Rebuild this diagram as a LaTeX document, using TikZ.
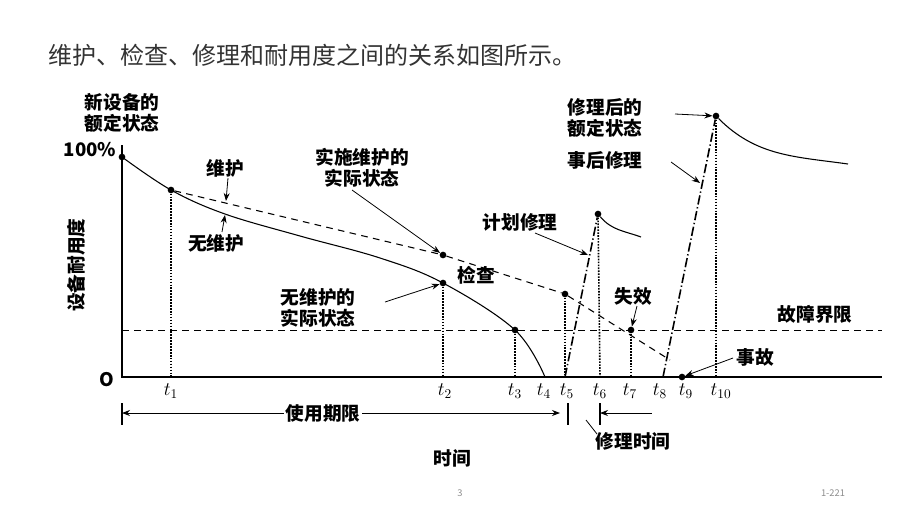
\documentclass[tikz,border=0pt]{standalone}
\usepackage{fontspec}
\setmainfont{Noto Sans CJK SC}
\usetikzlibrary{arrows.meta, positioning}

\begin{document}
\begin{tikzpicture}[
    x=0.75pt, y=-0.75pt,
    lbl/.style = {font=\fontsize{14}{16}\selectfont\bfseries, align=center, inner sep=1pt},
    tick/.style = {font=\fontsize{14}{15}\selectfont},
    dot/.style = {circle, fill=black, inner sep=0pt, minimum size=5pt},
    vline/.style = {densely dotted, very thick},
    pointer/.style = {-{Stealth[length=6pt]}, semithick},
    repair/.style = {very thick, dash pattern=on 7pt off 2pt on 1pt off 2pt},
    curve/.style = {thick}
]
\useasboundingbox (0,0) rectangle (920,518);

% Title
\node[anchor=west, font=\fontsize{18}{20}\selectfont, text=black!80] (title) at (44,55)
    {维护、检查、修理和耐用度之间的关系如图所示。};

% Axes
\coordinate (O) at (122,377);
\draw[thick] (122,145) -- (O) -- (882,377);
\node[tick, font=\fontsize{14}{15}\selectfont\bfseries] (zero) at (107,380) {O};
\node[tick, font=\fontsize{14}{15}\selectfont\bfseries] (full) at (90,150) {100\%};
\node[lbl, rotate=90] (ylab) at (76,265) {设备耐用度};
\node[lbl] (newstate) at (122,113) {新设备的\\额定状态};

% Key points
\node[dot] (p0) at (122,157) {};
\node[dot] (p1) at (171,190) {};
\node[dot] (p2) at (443,283) {};
\node[dot] (p3) at (515,330) {};
\coordinate (p4) at (545,377);
\node[dot] (m2) at (443,255) {};
\node[dot] (m5) at (565,294) {};
\node[dot] (f7) at (631,330) {};
\node[dot] (acc) at (682,377) {};
\node[dot] (r6) at (598,214) {};
\node[dot] (r10) at (716,116) {};
\coordinate (s5) at (565,377);
\coordinate (s8) at (663,377);

% Curves
\draw[curve] plot[smooth, tension=0.6] coordinates
    {(122,157) (171,190) (225,214) (300,236) (380,258) (443,283) (515,330) (545,377)};
\draw[thick, dash pattern=on 5pt off 4pt] (p1) -- (m2) -- (m5) -- (670,360);
\draw[semithick, dash pattern=on 5pt off 4pt] (122,330) -- (882,330);
\draw[repair] (s5) -- (r6);
\draw[curve] (r6) to[out=-50, in=160] (641,237);
\draw[repair] (s8) -- (r10);
\draw[curve] (r10) to[out=-45, in=172] (848,164);

% Verticals
\draw[vline] (p1) -- (171,377);
\draw[vline] (p2) -- (443,377);
\draw[vline] (p3) -- (515,377);
\draw[vline] (m5) -- (565,377);
\draw[vline] (r6) -- (600,377);
\draw[vline] (f7) -- (631,377);
\draw[vline] (r10) -- (716,377);

% Tick labels
\foreach \x/\i in {171/1, 445/2, 515/3, 544/4, 567/5, 600/6, 630/7, 660/8, 686/9, 721/{10}}
    \node[tick] at (\x,391) {$t_{\i}$};

% Labels
\node[lbl] (wh) at (225,168) {维护};
\draw[pointer] (228,178) -- (226,201);
\node[lbl] (nwh) at (216,243) {无维护};
\draw[pointer] (222,232) -- (225,215);
\node[lbl] (ssw) at (362,168) {实施维护的\\实际状态};
\draw[pointer] (352,190) -- (m2);
\node[lbl] (jc) at (476,275) {检查};
\node[lbl] (nws) at (318,308) {无维护的\\实际状态};
\draw[pointer] (385,302) -- (p2);
\node[lbl] (jh) at (520,222) {计划修理};
\draw[pointer] (535,233) -- (588,255);
\node[lbl] (sx) at (633,296) {失效};
\draw[pointer] (637,306) -- (f7);
\node[lbl] (gz) at (815,314) {故障界限};
\node[lbl] (sg) at (755,357) {事故};
\draw[pointer] (733,358) -- (acc);
\node[lbl] (xlh) at (605,118) {修理后的\\额定状态};
\draw[pointer] (675,114) -- (r10);
\node[lbl] (sh) at (605,160) {事后修理};
\draw[pointer] (671,162) -- (700,183);

% Life span and repair time
\draw[thick] (122,403) -- (122,425);
\draw[semithick, {Stealth[length=6pt]}-{Stealth[length=6pt]}] (122,413) -- (560,413);
\node[lbl, fill=white] (life) at (323,413) {使用期限};
\draw[thick] (568,403) -- (568,425);
\draw[thick] (600,403) -- (600,425);
\draw[semithick, {Stealth[length=6pt]}-] (600,413) -- (652,413);
\node[lbl] (rt) at (633,441) {修理时间};
\draw[semithick] (586,420) -- (597,434);
\node[lbl] (time) at (452,458) {时间};

% Footer
\node[text=black!45, font=\fontsize{7}{8}\selectfont] (pg) at (460,493) {3};
\node[text=black!45, font=\fontsize{7}{8}\selectfont] (code) at (833,493) {1-221};
\end{tikzpicture}
\end{document}
